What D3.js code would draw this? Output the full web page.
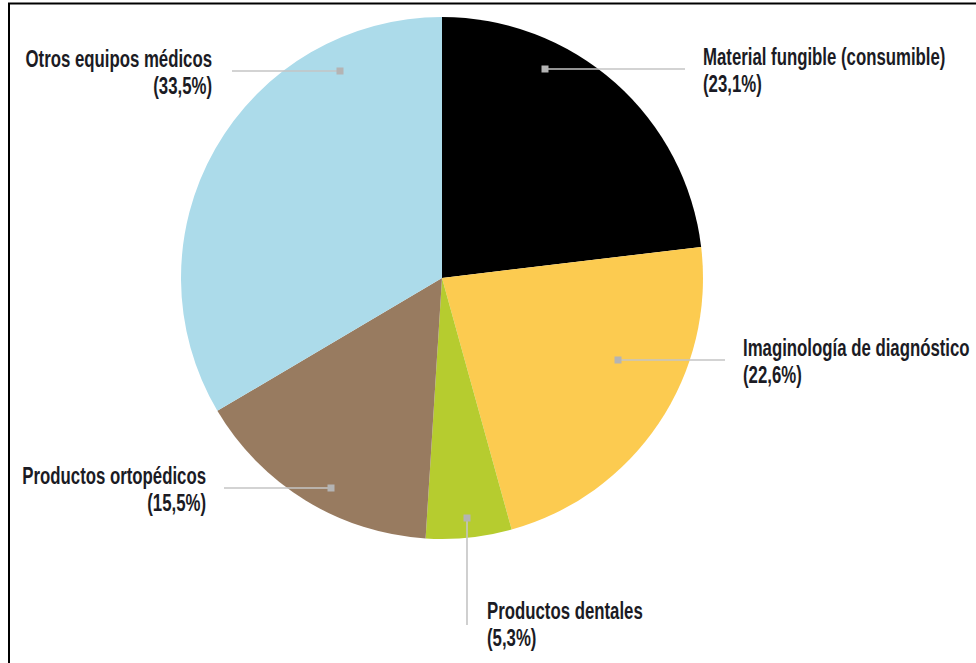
<!DOCTYPE html>
<html>
<head>
<meta charset="utf-8">
<script src="https://cdn.jsdelivr.net/npm/d3@7"></script>
<style>
  html, body { margin: 0; padding: 0; background: #fff; }
  svg { display: block; }
  .lbl { font-family: "Liberation Sans", Arial, sans-serif; font-weight: bold; font-size: 23px; fill: #1b1b24; }
</style>
</head>
<body>
<svg id="chart" width="976" height="663"></svg>
<script>
// Distribución del mercado de equipos médicos por segmento (%)
const categories = [
  "Material fungible (consumible)",
  "Imaginología de diagnóstico",
  "Productos dentales",
  "Productos ortopédicos",
  "Otros equipos médicos"
];
const values = [23.1, 22.6, 5.3, 15.5, 33.5];
const valueLabels = ["(23,1%)", "(22,6%)", "(5,3%)", "(15,5%)", "(33,5%)"];
const colors = ["#000000", "#fccb50", "#b6cc2f", "#987b60", "#acdbea"];

const W = 976, H = 663;
const cx = 442, cy = 278, R = 261;
const condense = 0.73;   // horizontal squeeze for a condensed label face

// Callout layout: marker offset from the pie centre, leader direction,
// leader end and text anchor point.
const callouts = [
  { mx: 103,  my: -209, dir: "h", lineEnd: 685, tx: 703, ty: 65,  anchor: "start" },
  { mx: 176,  my: 82,   dir: "h", lineEnd: 725, tx: 743, ty: 356, anchor: "start" },
  { mx: 25,   my: 240,  dir: "v", lineEnd: 625, tx: 487, ty: 619, anchor: "start" },
  { mx: -111, my: 210,  dir: "h", lineEnd: 224, tx: 206, ty: 484, anchor: "end" },
  { mx: -102, my: -207, dir: "h", lineEnd: 232, tx: 212, ty: 67,  anchor: "end" }
];

const svg = d3.select("#chart");

// Frame
svg.append("line").attr("x1", 8).attr("x2", W).attr("y1", 3.5).attr("y2", 3.5)
  .attr("stroke", "#000").attr("stroke-width", 2);
svg.append("line").attr("x1", 9).attr("x2", 9).attr("y1", 3).attr("y2", H)
  .attr("stroke", "#000").attr("stroke-width", 2);

const pie = d3.pie().sort(null).value(d => d)(values);
const arc = d3.arc().innerRadius(0).outerRadius(R);

const g = svg.append("g").attr("transform", `translate(${cx},${cy})`);
g.selectAll("path.slice").data(pie).join("path")
  .attr("class", "slice")
  .attr("d", arc)
  .attr("fill", (d, i) => colors[i]);

// Callouts
const cg = svg.append("g");
callouts.forEach((c, i) => {
  const mx = cx + c.mx;
  const my = cy + c.my;
  const x2 = c.dir === "h" ? c.lineEnd : mx;
  const y2 = c.dir === "h" ? my : c.lineEnd;
  cg.append("line").attr("x1", mx).attr("y1", my).attr("x2", x2).attr("y2", y2)
    .attr("stroke", "#c4c4c4").attr("stroke-width", 1.6);
  cg.append("rect").attr("x", mx - 3.5).attr("y", my - 3.5).attr("width", 7).attr("height", 7)
    .attr("fill", "#b4b4b4");
  const t = cg.append("text").attr("class", "lbl").attr("text-anchor", c.anchor)
    .attr("transform", `translate(${c.tx},${c.ty}) scale(${condense},1)`);
  t.append("tspan").attr("x", 0).attr("y", 0).text(categories[i]);
  t.append("tspan").attr("x", 0).attr("y", 27).text(valueLabels[i]);
});
</script>
</body>
</html>
